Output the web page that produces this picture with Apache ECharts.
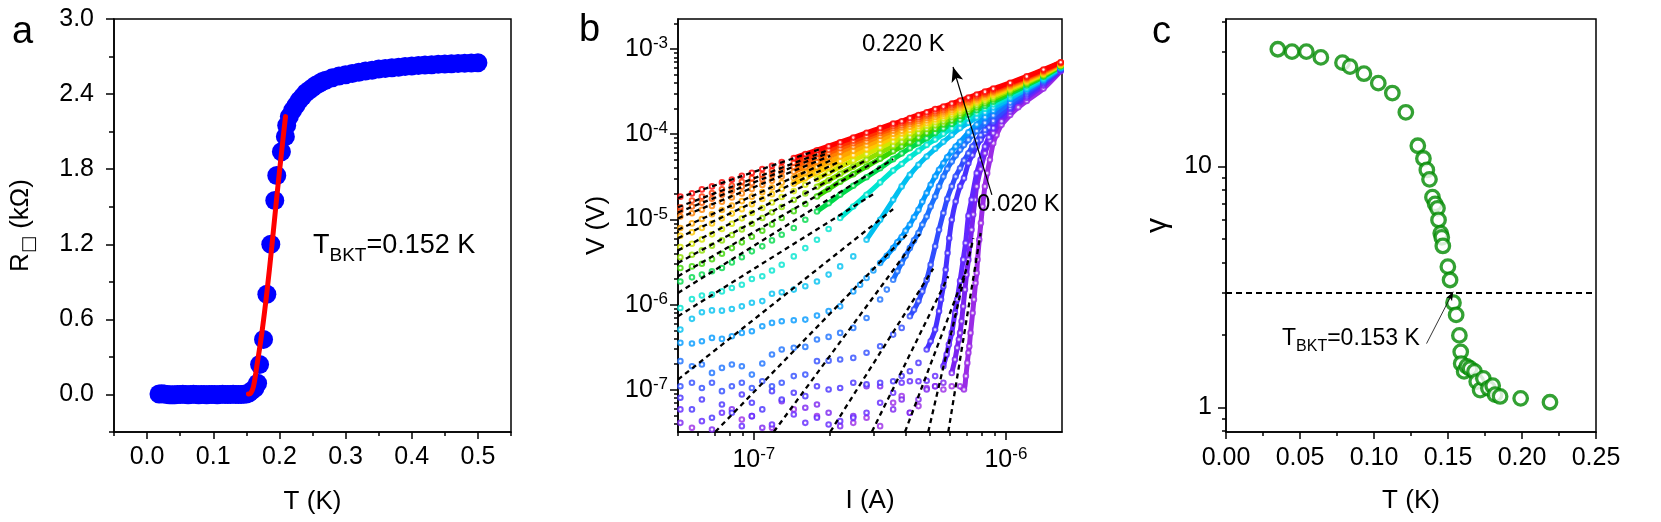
<!DOCTYPE html>
<html>
<head>
<meta charset="utf-8">
<script src="https://cdn.jsdelivr.net/npm/echarts@6.0.0/dist/echarts.min.js"></script>
<style>
  html, body { margin: 0; background: #fff; }
  #chart { width: 1661px; height: 522px; }
</style>
</head>
<body>
<div id="chart"></div>
<script>
const FONT = "'Liberation Sans', Arial, Helvetica, sans-serif";

// ---------- panel a : R(T) ----------
const A_T = [0.018, 0.022, 0.026, 0.030, 0.034, 0.038, 0.042, 0.046, 0.050, 0.054, 0.058, 0.062, 0.066, 0.070,
  0.074, 0.078, 0.082, 0.086, 0.090, 0.094, 0.098, 0.102, 0.106, 0.110, 0.114, 0.118, 0.122, 0.126, 0.130,
  0.134, 0.138, 0.142, 0.146, 0.150, 0.154, 0.158, 0.163, 0.167, 0.170, 0.176, 0.181, 0.187, 0.193, 0.196,
  0.203, 0.209, 0.211, 0.215, 0.220, 0.225, 0.230, 0.235, 0.240, 0.245, 0.250, 0.255, 0.260, 0.265, 0.270,
  0.280, 0.290, 0.300, 0.310, 0.320, 0.330, 0.340, 0.350, 0.360, 0.370, 0.380, 0.390, 0.400, 0.410, 0.420,
  0.430, 0.440, 0.450, 0.460, 0.470, 0.480, 0.490, 0.500];
const A_R = [0.004, 0.006, 0.003, 0.000, -0.002, -0.003, -0.002, -0.001, 0.000, 0.001, -0.001, -0.002, 0.000, 0.001,
  0.000, -0.002, -0.001, 0.000, -0.002, -0.001, 0.000, -0.001, -0.002, 0.000, 0.001, -0.001, 0.000, 0.000, 0.001,
  0.000, -0.001, 0.000, 0.002, 0.004, 0.012, 0.030, 0.050, 0.090, 0.240, 0.440, 0.800, 1.200, 1.550, 1.750,
  1.940, 2.060, 2.150, 2.220, 2.270, 2.310, 2.350, 2.380, 2.410, 2.430, 2.450, 2.470, 2.485, 2.500, 2.510,
  2.530, 2.545, 2.555, 2.565, 2.575, 2.585, 2.590, 2.600, 2.605, 2.610, 2.615, 2.620, 2.625, 2.628, 2.632,
  2.635, 2.638, 2.640, 2.642, 2.644, 2.646, 2.648, 2.650];
const A_FIT_T = [0.1532, 0.1567, 0.1608, 0.1658, 0.1734, 0.1809, 0.1885, 0.1961, 0.2036, 0.2092];
const A_FIT_R = [0.003, 0.011, 0.064, 0.224, 0.490, 0.809, 1.182, 1.581, 1.954, 2.220];
const A_X_LABELS = [0, 0.1, 0.2, 0.3, 0.4, 0.5];
const A_X_MINOR = [-0.05, 0.05, 0.15, 0.25, 0.35, 0.45, 0.55];
const A_Y_LABELS = [0, 0.6, 1.2, 1.8, 2.4, 3.0];
const A_Y_MINOR = [-0.3, 0.3, 0.9, 1.5, 2.1, 2.7];

// ---------- panel b : V(I) at 19 temperatures, 0.220 K (first) ... 0.020 K (last) ----------
const B_I = [5.11e-8, 5.68e-8, 6.22e-8, 6.82e-8, 7.47e-8, 8.18e-8, 8.96e-8, 9.82e-8, 1.08e-7, 1.18e-7, 1.29e-7,
  1.44e-7, 1.60e-7, 1.78e-7, 1.98e-7, 2.20e-7, 2.48e-7, 2.80e-7, 3.17e-7, 3.57e-7, 3.86e-7, 4.16e-7, 4.50e-7,
  4.85e-7, 5.24e-7, 5.65e-7, 6.10e-7, 6.58e-7, 7.10e-7, 7.66e-7, 8.26e-7, 8.91e-7, 1.04e-6, 1.21e-6, 1.41e-6, 1.65e-6];
const B_V01 = [1.85e-5, 2.02e-5, 2.25e-5, 2.44e-5, 2.72e-5, 2.93e-5, 3.26e-5, 3.53e-5, 3.90e-5, 4.27e-5, 4.72e-5, 5.24e-5, 5.84e-5, 6.49e-5, 7.23e-5, 8.06e-5, 9.12e-5, 1.04e-4, 1.18e-4, 1.33e-4, 1.42e-4, 1.55e-4, 1.68e-4, 1.81e-4, 1.97e-4, 2.11e-4, 2.29e-4, 2.48e-4, 2.69e-4, 2.92e-4, 3.16e-4, 3.43e-4, 4.02e-4, 4.77e-4, 5.74e-4, 7.00e-4];
const B_V02 = [1.39e-5, 1.67e-5, 1.85e-5, 2.04e-5, 2.25e-5, 2.48e-5, 2.77e-5, 3.05e-5, 3.36e-5, 3.71e-5, 4.10e-5, 4.61e-5, 5.19e-5, 5.84e-5, 6.55e-5, 7.42e-5, 8.37e-5, 9.55e-5, 1.09e-4, 1.25e-4, 1.35e-4, 1.45e-4, 1.58e-4, 1.71e-4, 1.86e-4, 2.02e-4, 2.19e-4, 2.37e-4, 2.59e-4, 2.80e-4, 3.05e-4, 3.32e-4, 3.92e-4, 4.67e-4, 5.61e-4, 6.95e-4];
const B_V03 = [1.26e-5, 1.42e-5, 1.57e-5, 1.75e-5, 1.95e-5, 2.17e-5, 2.42e-5, 2.67e-5, 2.97e-5, 3.30e-5, 3.68e-5, 4.14e-5, 4.70e-5, 5.33e-5, 6.06e-5, 6.86e-5, 7.85e-5, 8.95e-5, 1.03e-4, 1.18e-4, 1.27e-4, 1.38e-4, 1.50e-4, 1.64e-4, 1.78e-4, 1.93e-4, 2.09e-4, 2.29e-4, 2.50e-4, 2.72e-4, 2.97e-4, 3.23e-4, 3.83e-4, 4.57e-4, 5.51e-4, 6.90e-4];
const B_V04 = [1.08e-5, 1.18e-5, 1.30e-5, 1.44e-5, 1.61e-5, 1.81e-5, 2.02e-5, 2.27e-5, 2.53e-5, 2.84e-5, 3.19e-5, 3.62e-5, 4.14e-5, 4.74e-5, 5.42e-5, 6.22e-5, 7.17e-5, 8.22e-5, 9.55e-5, 1.10e-4, 1.20e-4, 1.31e-4, 1.42e-4, 1.55e-4, 1.70e-4, 1.84e-4, 2.02e-4, 2.21e-4, 2.41e-4, 2.64e-4, 2.88e-4, 3.14e-4, 3.74e-4, 4.48e-4, 5.41e-4, 6.80e-4];
const B_V05 = [7.92e-6, 8.98e-6, 1.01e-5, 1.15e-5, 1.29e-5, 1.45e-5, 1.64e-5, 1.85e-5, 2.09e-5, 2.37e-5, 2.70e-5, 3.07e-5, 3.55e-5, 4.10e-5, 4.74e-5, 5.47e-5, 6.38e-5, 7.42e-5, 8.60e-5, 1.01e-4, 1.10e-4, 1.22e-4, 1.33e-4, 1.45e-4, 1.59e-4, 1.74e-4, 1.91e-4, 2.11e-4, 2.32e-4, 2.54e-4, 2.78e-4, 3.04e-4, 3.64e-4, 4.37e-4, 5.30e-4, 6.70e-4];
const B_V06 = [6.44e-6, 7.05e-6, 7.92e-6, 8.98e-6, 1.03e-5, 1.17e-5, 1.32e-5, 1.51e-5, 1.74e-5, 1.98e-5, 2.27e-5, 2.62e-5, 3.05e-5, 3.55e-5, 4.14e-5, 4.82e-5, 5.68e-5, 6.68e-5, 7.85e-5, 9.20e-5, 1.02e-4, 1.12e-4, 1.24e-4, 1.35e-4, 1.49e-4, 1.64e-4, 1.81e-4, 2.00e-4, 2.21e-4, 2.43e-4, 2.67e-4, 2.93e-4, 3.53e-4, 4.26e-4, 5.19e-4, 6.61e-4];
const B_V07 = [4.74e-6, 5.18e-6, 5.83e-6, 6.68e-6, 7.71e-6, 8.90e-6, 1.03e-5, 1.19e-5, 1.36e-5, 1.58e-5, 1.83e-5, 2.15e-5, 2.55e-5, 2.99e-5, 3.52e-5, 4.14e-5, 4.91e-5, 5.84e-5, 6.98e-5, 8.22e-5, 9.20e-5, 1.03e-4, 1.15e-4, 1.26e-4, 1.38e-4, 1.53e-4, 1.70e-4, 1.89e-4, 2.10e-4, 2.32e-4, 2.56e-4, 2.82e-4, 3.41e-4, 4.15e-4, 5.09e-4, 6.51e-4];
const B_V08 = [3.60e-6, 3.85e-6, 4.33e-6, 4.91e-6, 5.67e-6, 6.56e-6, 7.64e-6, 8.90e-6, 1.04e-5, 1.21e-5, 1.40e-5, 1.69e-5, 2.02e-5, 2.42e-5, 2.87e-5, 3.42e-5, 4.14e-5, 5.00e-5, 6.06e-5, 7.29e-5, 8.14e-5, 9.20e-5, 1.03e-4, 1.15e-4, 1.27e-4, 1.41e-4, 1.58e-4, 1.76e-4, 1.96e-4, 2.19e-4, 2.43e-4, 2.68e-4, 3.28e-4, 4.03e-4, 4.97e-4, 6.42e-4];
const B_V09 = [2.69e-6, 2.81e-6, 3.02e-6, 3.41e-6, 3.96e-6, 4.61e-6, 5.38e-6, 6.26e-6, 7.37e-6, 8.74e-6, 1.04e-5, 1.25e-5, 1.52e-5, 1.86e-5, 2.27e-5, 2.77e-5, 3.39e-5, 4.18e-5, 5.15e-5, 6.32e-5, 7.17e-5, 8.06e-5, 9.12e-5, 1.03e-4, 1.16e-4, 1.30e-4, 1.45e-4, 1.64e-4, 1.84e-4, 2.06e-4, 2.30e-4, 2.56e-4, 3.15e-4, 3.90e-4, 4.86e-4, 6.33e-4];
const B_V10 = [1.87e-6, 2.09e-6, 2.25e-6, 2.46e-6, 2.69e-6, 3.13e-6, 3.60e-6, 4.22e-6, 4.83e-6, 5.67e-6, 6.62e-6, 7.92e-6, 9.91e-6, 1.24e-5, 1.55e-5, 1.95e-5, 2.48e-5, 3.13e-5, 3.99e-5, 5.10e-5, 5.94e-5, 6.86e-5, 7.85e-5, 8.95e-5, 1.03e-4, 1.17e-4, 1.32e-4, 1.49e-4, 1.69e-4, 1.91e-4, 2.14e-4, 2.40e-4, 3.00e-4, 3.76e-4, 4.72e-4, 6.24e-4];
const B_V11 = [9.13e-7, 1.16e-6, 1.28e-6, 1.31e-6, 1.43e-6, 1.57e-6, 1.71e-6, 2.00e-6, 2.15e-6, 2.52e-6, 2.94e-6, 3.68e-6, 4.61e-6, 5.78e-6, 7.71e-6, 1.04e-5, 1.42e-5, 1.95e-5, 2.72e-5, 3.75e-5, 4.48e-5, 5.37e-5, 6.38e-5, 7.49e-5, 8.68e-5, 1.01e-4, 1.17e-4, 1.35e-4, 1.54e-4, 1.75e-4, 1.99e-4, 2.24e-4, 2.84e-4, 3.60e-4, 4.59e-4, 6.16e-4];
const B_V12 = [5.09e-7, 6.81e-7, 8.15e-7, 8.56e-7, 8.50e-7, 8.89e-7, 9.55e-7, 1.05e-6, 1.10e-6, 1.34e-6, 1.40e-6, 1.50e-6, 1.64e-6, 1.87e-6, 2.25e-6, 2.81e-6, 3.68e-6, 5.78e-6, 9.91e-6, 1.70e-5, 2.44e-5, 3.33e-5, 4.37e-5, 5.47e-5, 6.74e-5, 8.14e-5, 9.80e-5, 1.18e-4, 1.36e-4, 1.57e-4, 1.80e-4, 2.06e-4, 2.66e-4, 3.42e-4, 4.43e-4, 6.06e-4];
const B_V13 = [3.56e-7, 3.50e-7, 3.72e-7, 4.07e-7, 3.96e-7, 4.26e-7, 4.66e-7, 4.87e-7, 5.57e-7, 6.10e-7, 6.38e-7, 6.55e-7, 6.67e-7, 7.43e-7, 8.38e-7, 9.55e-7, 1.43e-6, 2.05e-6, 3.08e-6, 4.61e-6, 6.21e-6, 8.66e-6, 1.30e-5, 2.04e-5, 3.19e-5, 4.57e-5, 6.27e-5, 8.14e-5, 1.05e-4, 1.30e-4, 1.58e-4, 1.89e-4, 2.60e-4, 3.37e-4, 4.37e-4, 6.00e-4];
const B_V14 = [2.17e-7, 1.89e-7, 1.98e-7, 1.58e-7, 1.81e-7, 1.98e-7, 1.89e-7, 1.51e-7, 2.04e-7, 2.60e-7, 2.97e-7, 3.11e-7, 3.19e-7, 3.89e-7, 4.18e-7, 4.66e-7, 5.33e-7, 6.98e-7, 1.15e-6, 1.96e-6, 3.08e-6, 4.61e-6, 6.92e-6, 1.08e-5, 1.86e-5, 3.19e-5, 4.78e-5, 6.55e-5, 8.58e-5, 1.09e-4, 1.36e-4, 1.66e-4, 2.35e-4, 3.22e-4, 4.25e-4, 5.90e-4];
const B_V15 = [1.10e-7, 1.21e-7, 1.05e-7, 1.21e-7, 9.65e-8, 1.10e-7, 1.21e-7, 1.05e-7, 1.26e-7, 1.10e-7, 1.21e-7, 1.45e-7, 1.51e-7, 2.17e-7, 2.20e-7, 2.27e-7, 2.37e-7, 2.72e-7, 3.25e-7, 4.45e-7, 5.33e-7, 7.30e-7, 1.10e-6, 1.96e-6, 4.83e-6, 1.19e-5, 2.44e-5, 3.99e-5, 5.99e-5, 8.37e-5, 1.12e-4, 1.44e-4, 2.19e-4, 3.08e-4, 4.14e-4, 5.79e-4];
const B_V16 = [8.06e-8, 5.89e-8, 7.71e-8, 4.70e-8, 6.74e-8, 5.38e-8, 8.82e-8, 7.05e-8, 5.89e-8, 9.65e-8, 7.71e-8, 9.23e-8, 8.43e-8, 1.10e-7, 1.01e-7, 1.05e-7, 1.21e-7, 1.16e-7, 1.21e-7, 1.26e-7, 1.45e-7, 1.65e-7, 2.07e-7, 2.97e-7, 5.09e-7, 1.64e-6, 9.91e-6, 2.44e-5, 4.57e-5, 7.17e-5, 1.03e-4, 1.37e-4, 2.05e-4, 2.92e-4, 4.00e-4, 5.70e-4];
const B_V17 = [5.89e-8, null, 4.29e-8, null, 5.38e-8, null, 3.75e-8, 4.91e-8, null, 3.92e-8, null, 5.14e-8, 4.10e-8, 4.70e-8, 3.92e-8, 4.29e-8, 4.70e-8, 5.38e-8, 7.05e-8, 9.23e-8, 1.21e-7, 1.26e-7, 1.26e-7, 1.28e-7, 1.45e-7, 1.89e-7, 4.66e-7, 1.90e-6, 1.10e-5, 3.49e-5, 7.17e-5, 1.18e-4, 1.97e-4, 2.79e-4, 3.86e-4, 5.64e-4];
const B_V18 = [4.10e-8, null, null, 3.43e-8, null, 5.89e-8, null, 4.91e-8, 3.59e-8, null, 7.37e-8, null, 6.16e-8, 6.74e-8, 5.38e-8, 3.75e-8, 4.91e-8, 1.10e-7, 1.10e-7, 5.89e-8, 7.71e-8, 5.38e-8, 7.71e-8, 1.01e-7, 1.10e-7, 1.21e-7, 1.58e-7, 4.66e-7, 3.37e-6, 2.44e-5, 5.99e-5, 1.03e-4, 1.84e-4, 2.67e-4, 3.72e-4, 5.59e-4];
const B_V19 = [null, 3.59e-8, null, null, null, null, 4.49e-8, null, null, 3.59e-8, null, 5.89e-8, null, 4.91e-8, null, null, 4.10e-8, 4.70e-8, 3.75e-8, 7.05e-8, 8.43e-8, 5.38e-8, 6.44e-8, 1.05e-7, 1.10e-7, 1.01e-7, 1.10e-7, 1.10e-7, 2.72e-7, 2.35e-6, 2.44e-5, 7.85e-5, 1.68e-4, 2.46e-4, 3.43e-4, 5.49e-4];
// extra readings [I, V] on the steep parts of the cold curves
const B_X13 = [[2.64e-7, 1.71e-6], [2.98e-7, 2.52e-6], [3.37e-7, 3.75e-6], [3.71e-7, 5.38e-6], [4.00e-7, 7.37e-6], [4.32e-7, 1.06e-5], [4.66e-7, 1.61e-5], [5.03e-7, 2.55e-5], [5.43e-7, 3.82e-5], [5.85e-7, 5.37e-5], [6.32e-7, 7.17e-5]];
const B_X14 = [[3.37e-7, 1.50e-6], [3.71e-7, 2.46e-6], [4.00e-7, 3.75e-6], [4.32e-7, 5.67e-6], [4.66e-7, 8.66e-6], [5.03e-7, 1.42e-5], [5.43e-7, 2.44e-5], [5.85e-7, 3.93e-5], [6.32e-7, 5.63e-5], [6.82e-7, 7.49e-5], [7.36e-7, 9.70e-5]];
const B_X15 = [[4.32e-7, 8.73e-7], [4.66e-7, 1.43e-6], [5.03e-7, 2.94e-6], [5.43e-7, 7.57e-6], [5.85e-7, 1.74e-5], [6.32e-7, 3.19e-5], [6.82e-7, 4.91e-5], [7.36e-7, 7.17e-5], [7.94e-7, 9.80e-5]];
const B_X16 = [[5.03e-7, 3.72e-7], [5.43e-7, 8.38e-7], [5.53e-7, 1.15e-6], [5.77e-7, 2.57e-6], [5.87e-7, 4.03e-6], [5.96e-7, 6.03e-6], [6.32e-7, 1.62e-5], [6.82e-7, 3.05e-5], [7.36e-7, 5.68e-5], [7.94e-7, 8.58e-5], [8.56e-7, 1.20e-4]];
const B_X17 = [[5.82e-7, 2.60e-7], [5.94e-7, 3.40e-7], [6.28e-7, 7.98e-7], [6.41e-7, 1.15e-6], [6.77e-7, 3.37e-6], [6.92e-7, 5.28e-6], [7.31e-7, 1.70e-5], [7.94e-7, 5.00e-5], [8.56e-7, 9.20e-5]];
const B_X18 = [[6.28e-7, 2.27e-7], [6.41e-7, 3.11e-7], [6.51e-7, 3.89e-7], [6.67e-7, 6.38e-7], [6.77e-7, 9.55e-7], [6.88e-7, 1.50e-6], [6.98e-7, 2.25e-6], [7.20e-7, 5.05e-6], [7.31e-7, 7.57e-6], [7.42e-7, 1.14e-5], [7.54e-7, 1.70e-5], [7.94e-7, 3.89e-5], [8.64e-7, 8.43e-5], [9.61e-7, 1.42e-4]];
const B_X19 = [[6.82e-7, 1.01e-7], [6.94e-7, 1.45e-7], [7.03e-7, 2.07e-7], [7.16e-7, 3.25e-7], [7.24e-7, 4.66e-7], [7.38e-7, 7.98e-7], [7.47e-7, 1.15e-6], [7.58e-7, 1.79e-6], [7.72e-7, 3.37e-6], [7.84e-7, 5.78e-6], [7.96e-7, 9.06e-6], [8.08e-7, 1.42e-5], [8.43e-7, 3.49e-5], [8.64e-7, 5.00e-5], [9.18e-7, 9.80e-5], [9.61e-7, 1.29e-4], [1.12e-6, 2.07e-4]];
// dashed power-law fits: [[I start, V start], [I end, V end]]
const B_FITS = [
  [[5.0e-8, 1.78e-5], [1.83e-7, 6.68e-5]],
  [[5.0e-8, 1.39e-5], [1.95e-7, 6.43e-5]],
  [[5.0e-8, 1.21e-5], [1.95e-7, 5.94e-5]],
  [[5.0e-8, 1.03e-5], [2.01e-7, 5.57e-5]],
  [[5.0e-8, 7.57e-6], [2.07e-7, 5.10e-5]],
  [[5.0e-8, 6.03e-6], [2.20e-7, 4.82e-5]],
  [[5.0e-8, 4.33e-6], [2.34e-7, 4.52e-5]],
  [[5.0e-8, 3.08e-6], [2.80e-7, 5.00e-5]],
  [[5.0e-8, 2.15e-6], [3.17e-7, 5.15e-5]],
  [[5.0e-8, 1.37e-6], [3.57e-7, 5.10e-5]],
  [[5.0e-8, 7.30e-7], [2.98e-7, 1.98e-5]],
  [[5.0e-8, 1.32e-7], [3.57e-7, 1.32e-5]],
  [[7.03e-8, 3.22e-8], [4.04e-7, 6.62e-6]],
  [[1.20e-7, 3.22e-8], [4.56e-7, 6.74e-6]],
  [[2.01e-7, 3.22e-8], [5.15e-7, 2.64e-6]],
  [[2.94e-7, 3.22e-8], [5.91e-7, 2.15e-6]],
  [[3.98e-7, 3.22e-8], [6.89e-7, 2.35e-6]],
  [[4.92e-7, 3.22e-8], [7.43e-7, 6.03e-6]],
  [[5.91e-7, 3.22e-8], [7.94e-7, 6.92e-6]]
];
const B_ARROW = [[8.8e-7, 1.94e-5], [6.17e-7, 6.15e-4]];
const B_X_RANGE = [5.0e-8, 1.67e-6];
const B_Y_RANGE = [3.2e-8, 2.25e-3];

// ---------- panel c : gamma(T) ----------
const C_T = [0.0350, 0.0446, 0.0543, 0.0641, 0.0787, 0.0838, 0.0932, 0.1029, 0.1124, 0.1215, 0.1296, 0.1334,
  0.1357, 0.1375, 0.1395, 0.1413, 0.1429, 0.1436, 0.1451, 0.1458, 0.1465, 0.1499, 0.1514, 0.1537, 0.1555,
  0.1577, 0.1586, 0.1589, 0.1609, 0.1627, 0.1649, 0.1679, 0.1694, 0.1717, 0.1739, 0.1773, 0.1802, 0.1818,
  0.1852, 0.1991, 0.2189];
const C_G = [30.7, 30.0, 30.0, 28.4, 27.0, 26.0, 24.3, 22.2, 20.2, 16.8, 12.2, 10.8, 9.68, 8.85, 7.46, 7.0,
  6.71, 6.0, 5.28, 5.08, 4.68, 3.84, 3.38, 2.72, 2.42, 1.99, 1.70, 1.52, 1.41, 1.48, 1.45, 1.41, 1.28, 1.18,
  1.32, 1.20, 1.23, 1.13, 1.11, 1.09, 1.05];
const C_LEVEL = 3;
const C_NOTE = [[0.1355, 1.84], [0.1535, 3.02]];
const C_X_LABELS = [0, 0.05, 0.10, 0.15, 0.20, 0.25];
const C_X_MINOR = [0.025, 0.075, 0.125, 0.175, 0.225];
const C_Y_RANGE = [0.79, 41];

// colours of the 19 I-V curves, red (0.220 K) to purple (0.020 K)
const B_COLORS = ['#ff0000', '#ff3300', '#ff5a00', '#ff8000', '#ffa500', '#ffc800', '#d4e600', '#8ee000',
  '#3ad600', '#00d94a', '#00e5d0', '#00c0f0', '#0099ff', '#1a70ff', '#2f4cff', '#4630ff', '#6126ff',
  '#7a22f0', '#9a2be6'];
// index of B_I from which the curve is dense enough to look like a continuous band
const B_BAND_FROM = [11, 11, 11, 11, 11, 11, 13, 13, 13, 13, 15, 17, 18, 19, 21, 23, 25, 26, 27];

const B_V = [B_V01, B_V02, B_V03, B_V04, B_V05, B_V06, B_V07, B_V08, B_V09, B_V10,
  B_V11, B_V12, B_V13, B_V14, B_V15, B_V16, B_V17, B_V18, B_V19];
const B_X = [null, null, null, null, null, null, null, null, null, null, null, null,
  B_X13, B_X14, B_X15, B_X16, B_X17, B_X18, B_X19];

// log axis decorations
function decadeTicks(lo, hi) {
  const major = [], minor = [];
  for (let e = Math.floor(Math.log10(lo)); e <= Math.ceil(Math.log10(hi)); e++) {
    for (let m = 1; m < 10; m++) {
      const v = m * Math.pow(10, e);
      if (v < lo * 0.999 || v > hi * 1.001) continue;
      (m === 1 ? major : minor).push(Math.log10(v));
    }
  }
  return { major, minor };
}
const bxT = decadeTicks(B_X_RANGE[0], B_X_RANGE[1]);
const byT = decadeTicks(B_Y_RANGE[0], B_Y_RANGE[1]);
const cyT = decadeTicks(C_Y_RANGE[0], C_Y_RANGE[1]);

const black = '#000';
const lineW = 1.5;
const labelStyle = { color: black, fontFamily: FONT, fontSize: 25 };
const nameStyle = { color: black, fontFamily: FONT, fontSize: 26 };

function decoAxis(gridIndex, position, min, max, ticks, len, extra) {
  return Object.assign({
    type: 'value', gridIndex, position, min, max,
    axisLine: { show: false, onZero: false },
    splitLine: { show: false },
    axisLabel: { show: false },
    axisTick: { show: true, customValues: ticks, length: len, lineStyle: { color: black, width: lineW } }
  }, extra || {});
}
const axisLineOn = { show: true, onZero: false, lineStyle: { color: black, width: lineW } };

const supRich = { sup: { fontSize: 17, fontFamily: FONT, color: black, verticalAlign: 'top', lineHeight: 17 } };
const powLabel = v => '10{sup|' + Math.round(v) + '}';

const xAxis = [
  // panel a
  decoAxis(0, 'bottom', -0.05, 0.55, A_X_LABELS, 7, {
    axisLine: axisLineOn,
    axisLabel: { show: true, customValues: A_X_LABELS, margin: 13, formatter: v => v.toFixed(1), ...labelStyle },
    name: 'T (K)', nameLocation: 'middle', nameGap: 57, nameTextStyle: nameStyle
  }),
  decoAxis(0, 'bottom', -0.05, 0.55, A_X_MINOR, 4),
  // panel b (data axis is log, decorations in log10 space)
  { type: 'log', gridIndex: 1, min: B_X_RANGE[0], max: B_X_RANGE[1], show: false },
  decoAxis(1, 'bottom', Math.log10(B_X_RANGE[0]), Math.log10(B_X_RANGE[1]), bxT.major, 8, {
    axisLine: axisLineOn,
    axisLabel: { show: true, customValues: bxT.major, margin: 14, formatter: powLabel, lineHeight: 28, rich: supRich, ...labelStyle },
    name: 'I (A)', nameLocation: 'middle', nameGap: 56, nameTextStyle: nameStyle
  }),
  decoAxis(1, 'bottom', Math.log10(B_X_RANGE[0]), Math.log10(B_X_RANGE[1]), bxT.minor, 4),
  // panel c
  decoAxis(2, 'bottom', 0, 0.25, C_X_LABELS, 7, {
    axisLine: axisLineOn,
    axisLabel: { show: true, customValues: C_X_LABELS, margin: 14, formatter: v => v.toFixed(2), ...labelStyle },
    name: 'T (K)', nameLocation: 'middle', nameGap: 56, nameTextStyle: nameStyle
  }),
  decoAxis(2, 'bottom', 0, 0.25, C_X_MINOR, 4)
];

const yAxis = [
  // panel a
  decoAxis(0, 'left', -0.3, 3.0, A_Y_LABELS, 8, {
    axisLine: axisLineOn,
    axisLabel: { show: true, customValues: A_Y_LABELS, margin: 20, formatter: v => v.toFixed(1), ...labelStyle },
    name: 'R{sub|\u25A1} (k\u03A9)', nameLocation: 'middle', nameGap: 76, nameRotate: 90,
    nameTextStyle: Object.assign({}, nameStyle, {
      lineHeight: 34,
      rich: { sub: { fontSize: 18, fontFamily: "'DejaVu Sans', sans-serif", color: black, verticalAlign: 'bottom', lineHeight: 18 } }
    })
  }),
  decoAxis(0, 'left', -0.3, 3.0, A_Y_MINOR, 5),
  // panel b
  { type: 'log', gridIndex: 1, min: B_Y_RANGE[0], max: B_Y_RANGE[1], show: false },
  decoAxis(1, 'left', Math.log10(B_Y_RANGE[0]), Math.log10(B_Y_RANGE[1]), byT.major, 8, {
    axisLine: axisLineOn,
    axisLabel: { show: true, customValues: byT.major, margin: 10, formatter: powLabel, lineHeight: 28, rich: supRich, ...labelStyle },
    name: 'V (V)', nameLocation: 'middle', nameGap: 68, nameRotate: 90, nameTextStyle: nameStyle
  }),
  decoAxis(1, 'left', Math.log10(B_Y_RANGE[0]), Math.log10(B_Y_RANGE[1]), byT.minor, 4),
  // panel c
  { type: 'log', gridIndex: 2, min: C_Y_RANGE[0], max: C_Y_RANGE[1], show: false },
  decoAxis(2, 'left', Math.log10(C_Y_RANGE[0]), Math.log10(C_Y_RANGE[1]), cyT.major, 8, {
    axisLine: axisLineOn,
    axisLabel: { show: true, customValues: cyT.major, margin: 14, formatter: v => String(Math.round(Math.pow(10, v))), ...labelStyle },
    name: '\u03B3', nameLocation: 'middle', nameGap: 53, nameRotate: 90, nameTextStyle: Object.assign({}, nameStyle, { fontSize: 30 })
  }),
  decoAxis(2, 'left', Math.log10(C_Y_RANGE[0]), Math.log10(C_Y_RANGE[1]), cyT.minor, 4)
];

const series = [];

// panel a
series.push({
  type: 'scatter', xAxisIndex: 0, yAxisIndex: 0, symbolSize: 19, silent: true,
  itemStyle: { color: '#0000ff', opacity: 1 },
  data: A_T.map((t, i) => [t, A_R[i]])
});
series.push({
  type: 'line', xAxisIndex: 0, yAxisIndex: 0, smooth: 0.4, showSymbol: false, silent: true, z: 5,
  lineStyle: { color: '#ff0000', width: 5, cap: 'round' },
  data: A_FIT_T.map((t, i) => [t, A_FIT_R[i]])
});

// panel b: coldest first so the warm curves sit on top
for (let k = B_V.length - 1; k >= 0; k--) {
  let pts = B_I.map((x, i) => [x, B_V[k][i]]).filter(p => p[1] != null);
  if (B_X[k]) pts = pts.concat(B_X[k]).sort((p, q) => p[0] - q[0]);
  const bandStart = B_I[B_BAND_FROM[k]];
  const col = B_COLORS[k];
  series.push({
    type: 'line', xAxisIndex: 2, yAxisIndex: 2, showSymbol: false, silent: true,
    smooth: 0.25, z: 2,
    lineStyle: { color: col, width: 5 },
    data: pts.filter(p => p[0] >= bandStart)
  });
  series.push({
    type: 'scatter', xAxisIndex: 2, yAxisIndex: 2, symbol: 'circle', symbolSize: 4.6, silent: true, z: 3,
    itemStyle: { color: '#fff', borderColor: col, borderWidth: 2 },
    data: pts
  });
}
B_FITS.forEach((f, idx) => {
  const s = {
    type: 'line', xAxisIndex: 2, yAxisIndex: 2, showSymbol: false, silent: true, z: 6,
    lineStyle: { color: black, width: 2.3, type: [5, 4] },
    data: f
  };
  if (idx === B_FITS.length - 1) {
    s.markLine = {
      silent: true, symbol: ['none', 'arrow'], symbolSize: [9, 15], label: { show: false },
      lineStyle: { color: black, width: 1.2, type: 'solid' },
      data: [[{ coord: B_ARROW[0] }, { coord: B_ARROW[1] }]]
    };
  }
  series.push(s);
});

// panel c
series.push({
  type: 'scatter', xAxisIndex: 5, yAxisIndex: 5, symbol: 'circle', symbolSize: 13.5, silent: true,
  itemStyle: { color: '#fff', borderColor: '#008a00', borderWidth: 3.3 },
  data: C_T.map((t, i) => [t, C_G[i]]),
  markLine: {
    silent: true, symbol: 'none', label: { show: false },
    lineStyle: { color: black, width: 2, type: [6, 4] },
    data: [{ yAxis: C_LEVEL }]
  }
});
series.push({
  type: 'line', xAxisIndex: 5, yAxisIndex: 5, showSymbol: false, silent: true, data: [],
  markLine: {
    silent: true, symbol: ['none', 'arrow'], symbolSize: [5, 9], label: { show: false },
    lineStyle: { color: black, width: 0.8, type: 'solid' },
    data: [[{ coord: C_NOTE[0] }, { coord: C_NOTE[1] }]]
  }
});

const txt = (x, y, text, size, extra) => ({
  type: 'text', x, y, silent: true, z: 100,
  style: Object.assign({ text, fontSize: size, fontFamily: FONT, fill: black, align: 'left', verticalAlign: 'middle' }, extra || {})
});

const graphic = [
  txt(12, 33, 'a', 38),
  txt(579, 31, 'b', 38),
  txt(1152, 33, 'c', 38),
  txt(313, 246, 'T{s|BKT}=0.152 K', 27, {
    lineHeight: 38, rich: { s: { fontSize: 19, fontFamily: FONT, fill: black, verticalAlign: 'bottom', lineHeight: 19 } }
  }),
  txt(1282, 339, 'T{s|BKT}=0.153 K', 23, {
    lineHeight: 32, rich: { s: { fontSize: 16, fontFamily: FONT, fill: black, verticalAlign: 'bottom', lineHeight: 16 } }
  }),
  txt(862, 44, '0.220 K', 24),
  txt(977, 204, '0.020 K', 24)
];

const chart = echarts.init(document.getElementById('chart'), null, { renderer: 'canvas' });
chart.setOption({
  animation: false,
  backgroundColor: '#fff',
  grid: [
    { left: 114, top: 19, width: 397, height: 413, show: true, borderColor: black, borderWidth: lineW, backgroundColor: 'transparent' },
    { left: 678, top: 19, width: 384, height: 413, show: true, borderColor: black, borderWidth: lineW, backgroundColor: 'transparent' },
    { left: 1226, top: 19, width: 370, height: 413, show: true, borderColor: black, borderWidth: lineW, backgroundColor: 'transparent' }
  ],
  xAxis,
  yAxis,
  series,
  graphic
});
</script>
</body>
</html>
